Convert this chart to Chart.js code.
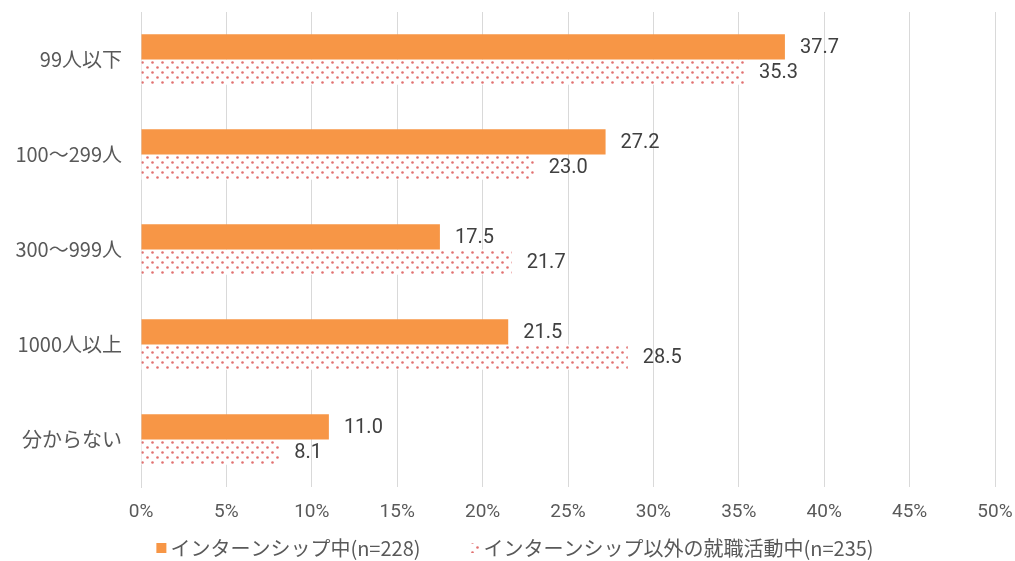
<!DOCTYPE html>
<html>
<head>
<meta charset="utf-8">
<script src="https://cdn.jsdelivr.net/npm/chart.js@4/dist/chart.umd.min.js"></script>
<style>
  html, body { margin: 0; padding: 0; background: #ffffff; }
  #wrap { width: 1015px; height: 561px; }
</style>
</head>
<body>
<div id="wrap"><canvas id="c" width="1015" height="561"></canvas></div>
<script>
// 企業規模別の内訳（%）
const categories = ['99人以下', '100～299人', '300～999人', '1000人以上', '分からない'];
const seriesNames = ['インターンシップ中(n=228)', 'インターンシップ以外の就職活動中(n=235)'];
const internValues = [37.7, 27.2, 17.5, 21.5, 11.0];
const otherValues = [35.3, 23.0, 21.7, 28.5, 8.1];
const xTicks = [0, 5, 10, 15, 20, 25, 30, 35, 40, 45, 50];

const FONT = "'Noto Sans CJK JP', 'Noto Sans', sans-serif";
const NUM_FONT = "Roboto, 'Noto Sans CJK JP', sans-serif";
const TEXT_COLOR = '#595959';

// 白地に赤い水玉の塗りパターン
function dotPattern() {
  const t = document.createElement('canvas');
  t.width = 10; t.height = 10;
  const g = t.getContext('2d');
  g.fillStyle = '#ffffff';
  g.fillRect(0, 0, 10, 10);
  g.fillStyle = 'rgba(222, 96, 96, 0.9)';
  [[2.5, 2.5], [7.5, 7.5]].forEach(([x, y]) => {
    g.beginPath();
    g.arc(x, y, 1.3, 0, Math.PI * 2);
    g.fill();
  });
  return document.getElementById('c').getContext('2d').createPattern(t, 'repeat');
}

// 棒の右側に数値ラベルを描く
const valueLabels = {
  id: 'valueLabels',
  afterDatasetsDraw(chart) {
    const ctx = chart.ctx;
    ctx.save();
    ctx.font = '20px ' + NUM_FONT;
    ctx.fillStyle = '#404040';
    ctx.textBaseline = 'middle';
    ctx.textAlign = 'left';
    chart.data.datasets.forEach((ds, i) => {
      chart.getDatasetMeta(i).data.forEach((bar, j) => {
        ctx.fillText(ds.data[j].toFixed(1), bar.x + 15, bar.y + 1);
      });
    });
    ctx.restore();
  }
};

// 下部の凡例（四角の見本＋系列名）を中央寄せで描く
const bottomLegend = {
  id: 'bottomLegend',
  afterDraw(chart) {
    const ctx = chart.ctx;
    const box = 10, boxGap = 4, itemGap = 49, centerX = 515, y = 548;
    ctx.save();
    ctx.font = '20px ' + FONT;
    const items = chart.data.datasets.map(ds => ({
      label: ds.label, fill: ds.backgroundColor, w: ctx.measureText(ds.label).width
    }));
    const total = items.reduce((s, it) => s + box + boxGap + it.w, 0) + itemGap * (items.length - 1);
    let x = centerX - total / 2;
    ctx.textBaseline = 'middle';
    ctx.textAlign = 'left';
    items.forEach(it => {
      ctx.fillStyle = it.fill;
      ctx.fillRect(x, y - box / 2, box, box);
      x += box + boxGap;
      ctx.fillStyle = TEXT_COLOR;
      ctx.fillText(it.label, x, y);
      x += it.w + itemGap;
    });
    ctx.restore();
  }
};

const pattern = dotPattern();

new Chart(document.getElementById('c'), {
  type: 'bar',
  data: {
    labels: categories,
    datasets: [
      { label: seriesNames[0], data: internValues, backgroundColor: '#f79646', borderWidth: 0 },
      { label: seriesNames[1], data: otherValues, backgroundColor: pattern, borderWidth: 0 }
    ]
  },
  options: {
    indexAxis: 'y',
    responsive: false,
    animation: false,
    devicePixelRatio: 1,
    layout: { padding: { top: 12, right: 20, bottom: 34, left: 0 } },
    datasets: { bar: { categoryPercentage: 0.53, barPercentage: 1.0 } },
    scales: {
      x: {
        min: 0, max: 50,
        afterBuildTicks(scale) { scale.ticks = xTicks.map(v => ({ value: v })); },
        grid: { color: '#d9d9d9', lineWidth: 1, drawTicks: false },
        border: { display: false },
        ticks: {
          padding: 14,
          color: TEXT_COLOR,
          font: { family: NUM_FONT, size: 19 },
          callback: v => v + '%'
        },
        afterFit(scale) {
          scale.height = 40;
          scale.paddingLeft = 0;
          scale.paddingRight = 0;
        }
      },
      y: {
        grid: { display: false, drawTicks: false },
        border: { display: true, color: '#d9d9d9' },
        ticks: {
          padding: 19,
          color: TEXT_COLOR,
          font: { family: FONT, size: 20 }
        },
        afterFit(scale) {
          scale.width = 141;
          scale.paddingTop = 0;
          scale.paddingBottom = 0;
        }
      }
    },
    plugins: {
      legend: { display: false },
      tooltip: { enabled: false }
    }
  },
  plugins: [valueLabels, bottomLegend]
});
</script>
</body>
</html>
